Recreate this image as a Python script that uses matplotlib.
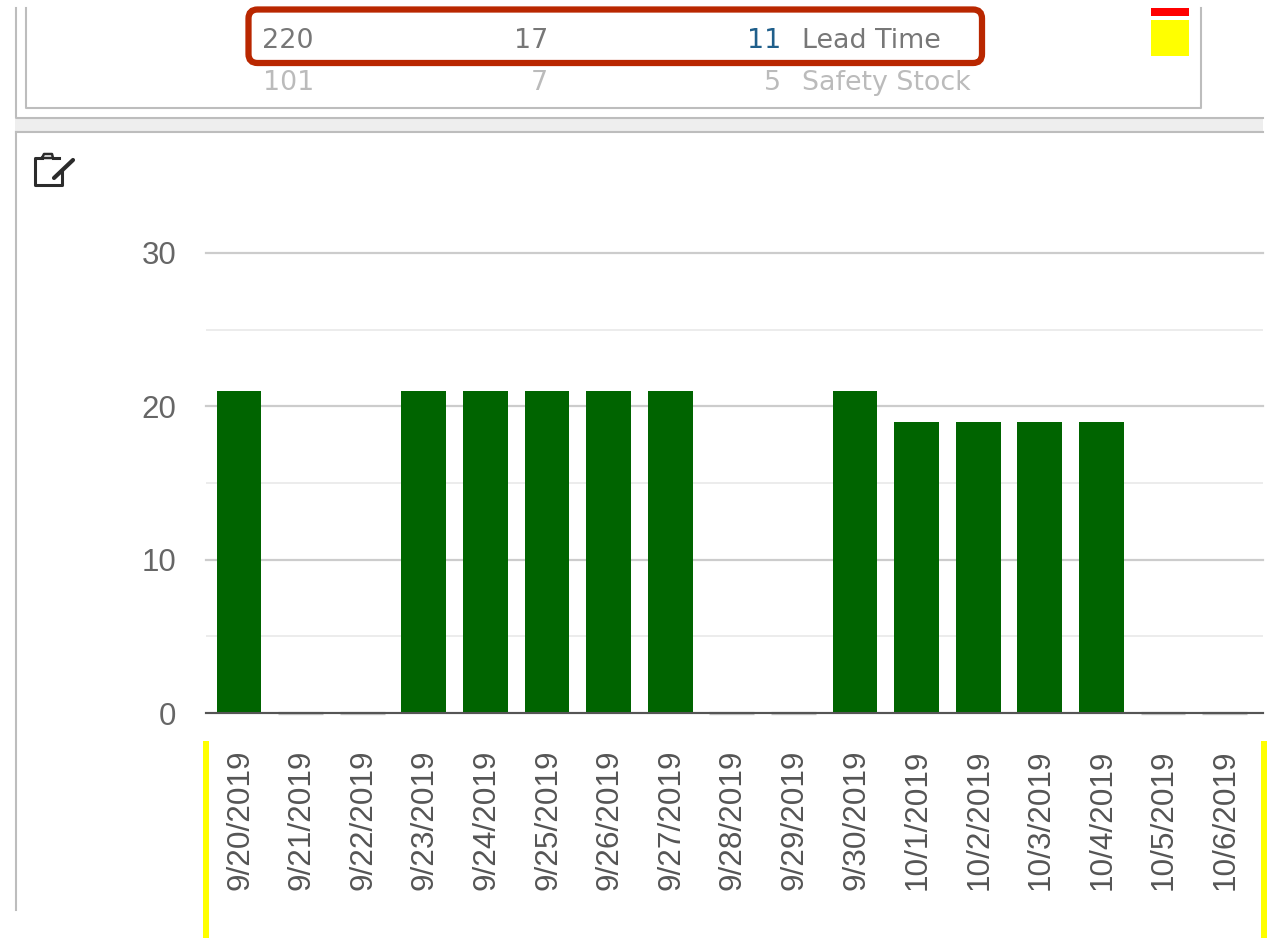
#!/usr/bin/env python3
import matplotlib
matplotlib.use("Agg")
import matplotlib.pyplot as plt
from matplotlib.patches import FancyBboxPatch, Rectangle
from matplotlib.transforms import ScaledTranslation

W, H = 1271, 938

dates = ["9/20/2019", "9/21/2019", "9/22/2019", "9/23/2019", "9/24/2019", "9/25/2019",
         "9/26/2019", "9/27/2019", "9/28/2019", "9/29/2019", "9/30/2019", "10/1/2019",
         "10/2/2019", "10/3/2019", "10/4/2019", "10/5/2019", "10/6/2019"]
values = [21, 0, 0, 21, 21, 21, 21, 21, 0, 0, 21, 19, 19, 19, 19, 0, 0]

lead_time = ["220", "17", "11"]
safety_stock = ["101", "7", "5"]
col_right = [314, 548, 781]

GREEN = "#006400"
FRAME = "#bdbdbd"

fig = plt.figure(figsize=(W / 100, H / 100), dpi=100, facecolor="white")

# chart area, placed by pixels from the reference
left, right, top, bottom = 206, 1263, 253, 713
ax = fig.add_axes([left / W, 1 - bottom / H, (right - left) / W, (bottom - top) / H])
x = list(range(len(dates)))
ax.set_xlim((left - 239) / 61.6, (right - 239) / 61.6)
ax.set_ylim(0, 30)
edges = ["none" if v else "#c4c4c4" for v in values]
ax.bar(x, values, width=0.73, color=GREEN, edgecolor=edges, linewidth=2.4, zorder=3, clip_on=False)

ax.set_yticks([0, 10, 20, 30])
ax.set_yticks([5, 15, 25], minor=True)
ax.grid(True, which="major", axis="y", color="#cccccc", linewidth=1.6, zorder=1, clip_on=False)
ax.grid(True, which="minor", axis="y", color="#ececec", linewidth=1.4, zorder=1)
ax.tick_params(axis="y", which="both", length=0, pad=21.5, labelsize=22.5, labelcolor="#666666",
               labelfontfamily="Liberation Sans")
ax.set_xticks(x)
ax.set_xticklabels(dates, rotation=90, family="Liberation Sans", fontsize=22.7, color="#555555")
ax.tick_params(axis="x", length=0, pad=26.5)
nudge = ScaledTranslation(1 / 100, 0, fig.dpi_scale_trans)
for lab in ax.get_xticklabels():
    lab.set_transform(lab.get_transform() + nudge)
for side in ["top", "left", "right"]:
    ax.spines[side].set_visible(False)
ax.spines["bottom"].set_color("#555555")
ax.spines["bottom"].set_linewidth(1.5)
ax.spines["bottom"].set_zorder(4)

# page furniture, in pixel coordinates
ov = fig.add_axes([0, 0, 1, 1], zorder=5)
ov.set_xlim(0, W)
ov.set_ylim(H, 0)
ov.axis("off")
ov.patch.set_alpha(0)

ov.add_patch(Rectangle((15, 119), 1248, 13, facecolor="#eeeeee", edgecolor="none"))
ov.plot([15.5, 15.5, 1263], [8, 118, 118], color=FRAME, lw=1.5)
ov.plot([25.5, 25.5, 1200.5, 1200.5], [8, 108, 108, 8], color=FRAME, lw=1.5)
ov.plot([15.5, 15.5], [910, 132], color=FRAME, lw=1.5)
ov.plot([15.5, 1263], [132.5, 132.5], color=FRAME, lw=1.5)

ov.add_patch(Rectangle((1151, 8), 38, 8, facecolor="#ff0000", edgecolor="none"))
ov.add_patch(Rectangle((1151, 20), 38, 36, facecolor="#ffff00", edgecolor="none"))
ov.add_patch(Rectangle((203, 741), 6, 197, facecolor="#ffff00", edgecolor="none"))
ov.add_patch(Rectangle((1261, 741), 6, 197, facecolor="#ffff00", edgecolor="none"))

ov.add_patch(FancyBboxPatch((248.5, 9.5), 733.5, 53.5, boxstyle="round,pad=0,rounding_size=9",
                            facecolor="none", edgecolor="#b92700", linewidth=4.5))

top_font = dict(family="DejaVu Sans", fontsize=19.4, va="center")
for i, (a, b) in enumerate(zip(lead_time, safety_stock)):
    ov.text(col_right[i], 40.5, a, ha="right", color="#1f5f8b" if i == 2 else "#777777", **top_font)
    ov.text(col_right[i], 82.5, b, ha="right", color="#bbbbbb", **top_font)
ov.text(802, 40.5, "Lead Time", ha="left", color="#777777", **top_font)
ov.text(802, 82.5, "Safety Stock", ha="left", color="#bbbbbb", **top_font)

# clipboard icon
ICON = "#2b2b2b"
ov.plot([42, 35, 35, 61.5, 61.5], [158, 158, 185.5, 185.5, 172], color=ICON, lw=2.2)
ov.plot([53, 59], [158, 158], color=ICON, lw=2.2)
ov.plot([42, 44, 52, 53, 42], [158, 154, 154, 158, 158], color=ICON, lw=1.8)
ov.plot([54, 73], [178, 160], color=ICON, lw=3, solid_capstyle="round")

fig.savefig("out.png", dpi=100)
